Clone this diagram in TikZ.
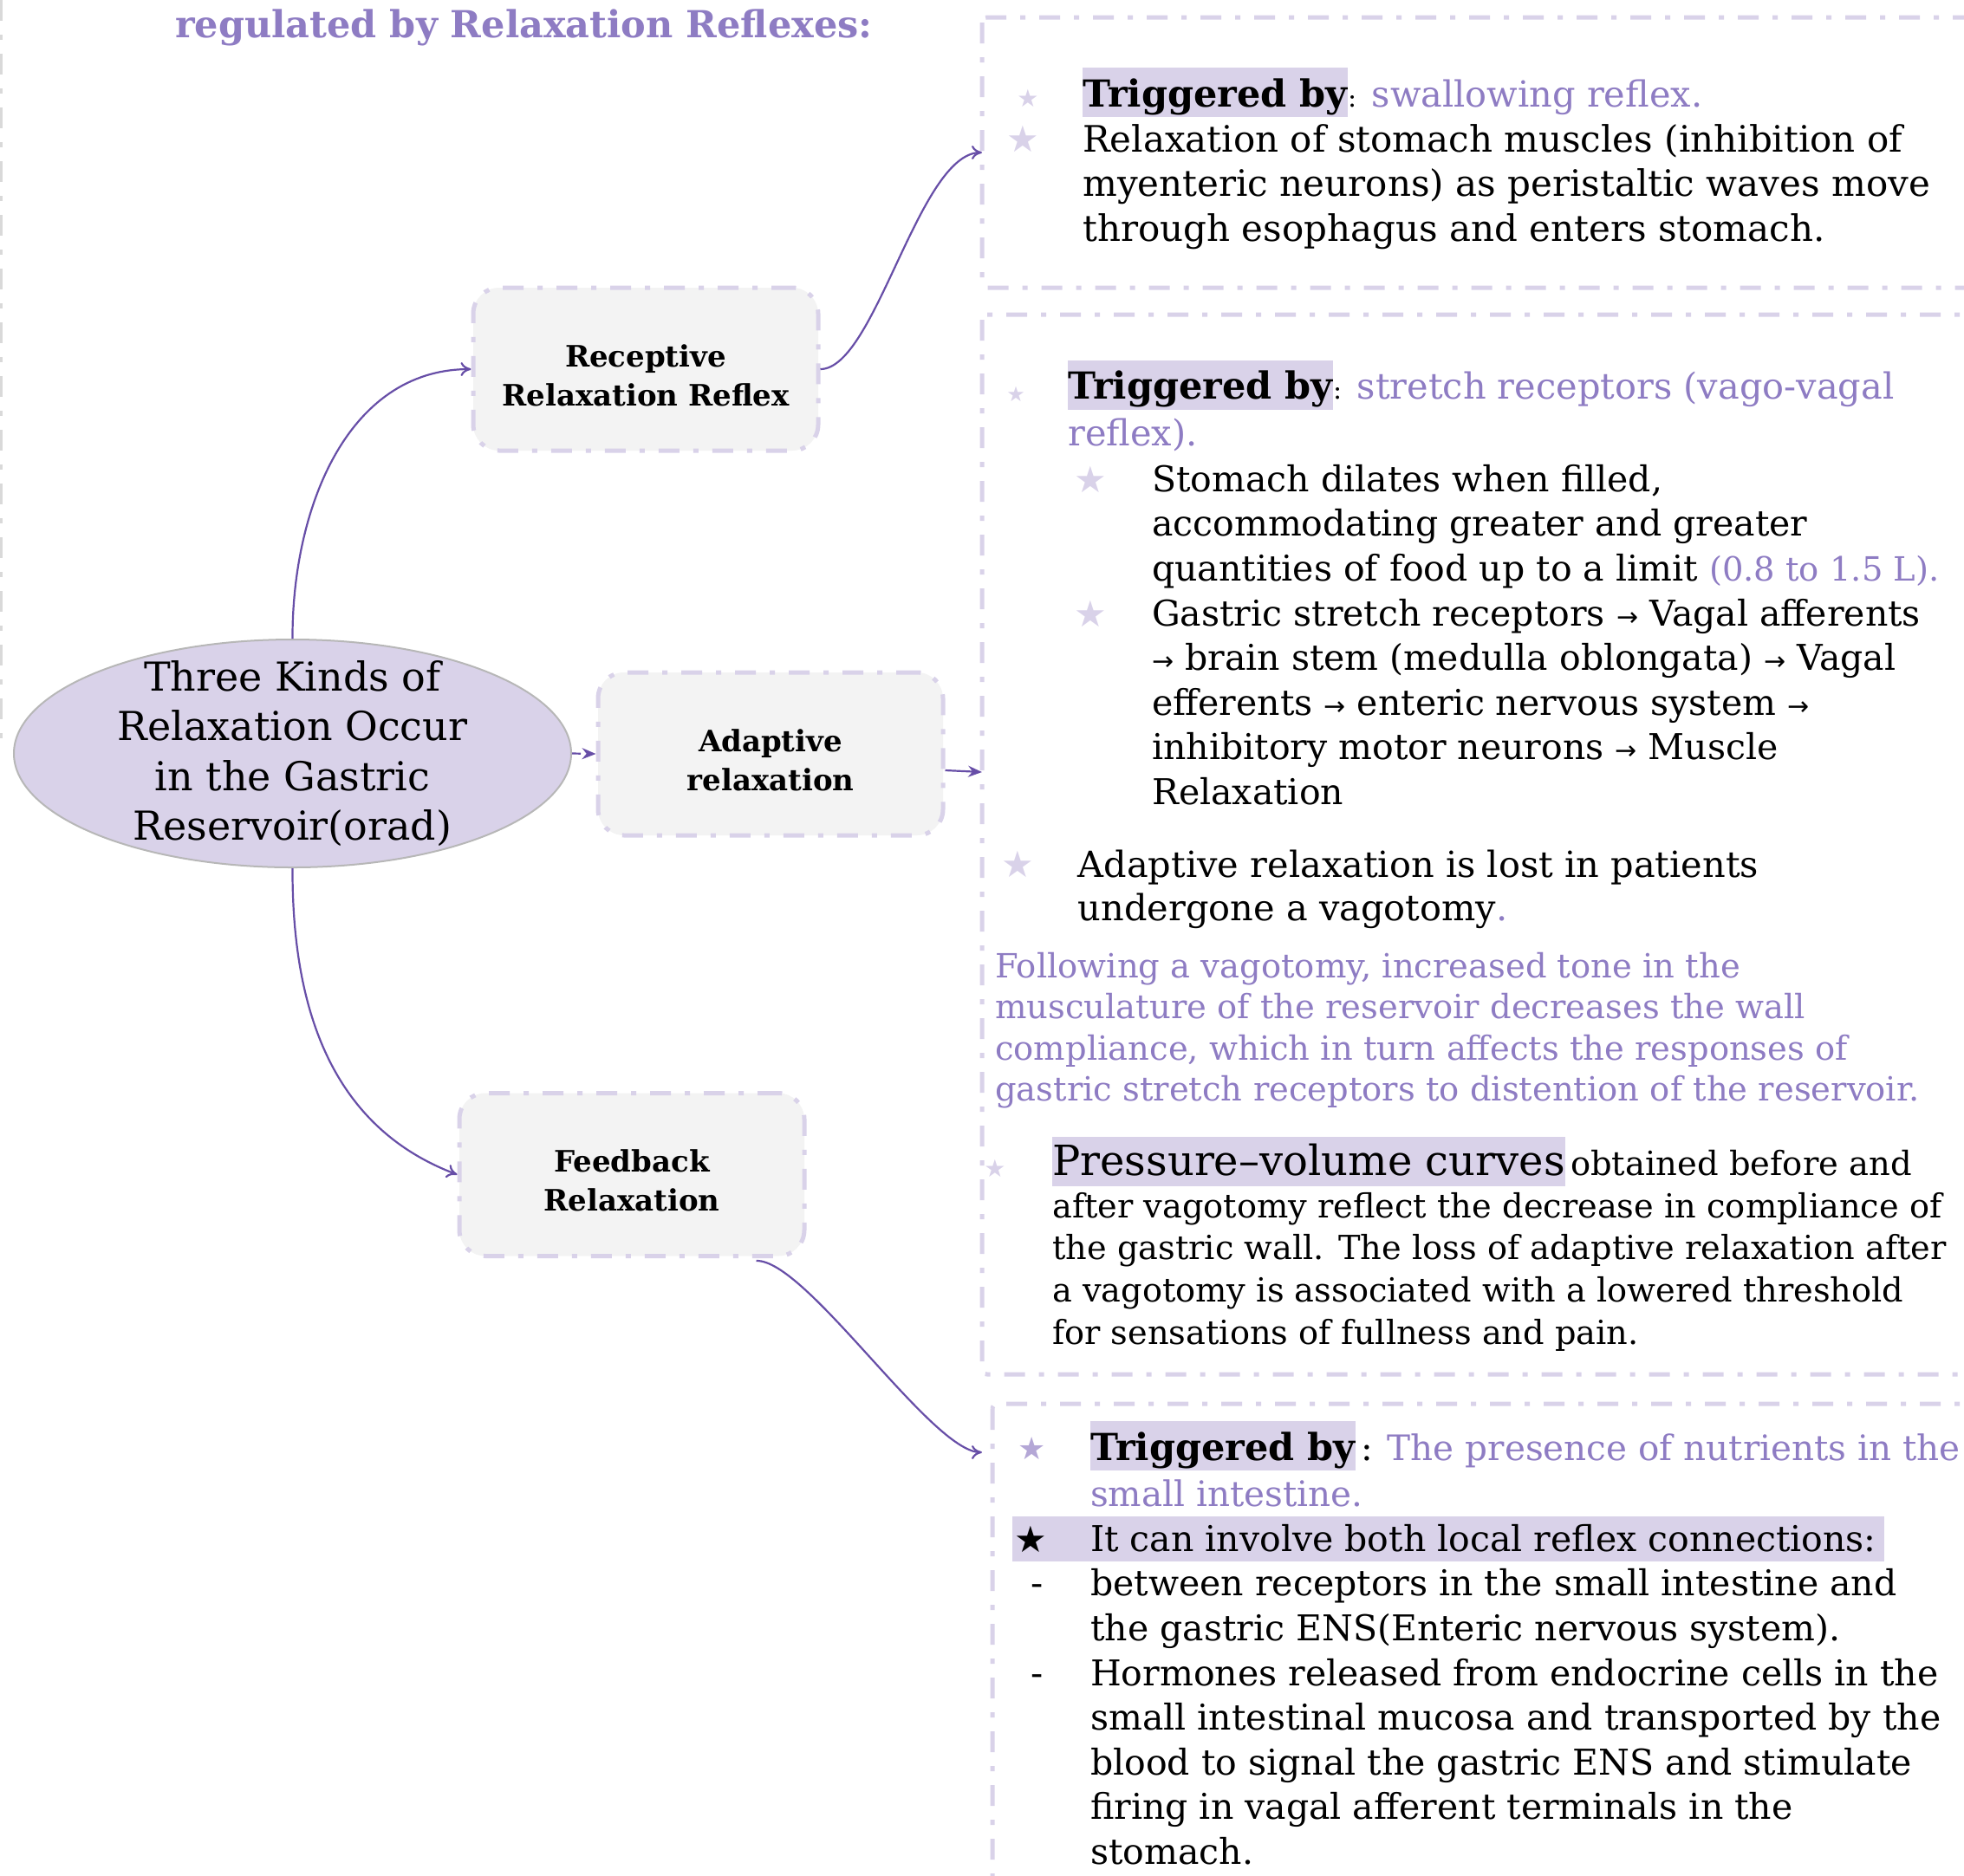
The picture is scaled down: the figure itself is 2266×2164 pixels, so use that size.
\documentclass[tikz,border=0pt]{standalone}
\usepackage{fontspec}
\setmainfont{DejaVu Serif}
\newfontfamily\symf{DejaVu Sans}
\usetikzlibrary{arrows.meta,shapes.geometric}
\definecolor{lav}{HTML}{D9D2E9}
\definecolor{lavmid}{HTML}{B4A7D6}
\definecolor{purp}{HTML}{8E7CC3}
\definecolor{arrc}{HTML}{674EA7}
\definecolor{boxf}{HTML}{F3F3F3}
\definecolor{ellb}{HTML}{B7B7B7}
\definecolor{lgray}{HTML}{D9D9D9}
\newcommand\fsz[2]{\fontsize{#1}{#2}\selectfont}
\newcommand\rarr{{\symf\fontsize{30}{30}\selectfont\char"2192}}
\newcommand\firstln{\rule{0pt}{40pt}}
\begin{document}
\begin{tikzpicture}[x=1pt,y=-1pt,
  dashdot/.style={dash pattern=on 24pt off 16pt on 6pt off 16pt},
  panel/.style={draw=lav, line width=5pt, dashdot, rounded corners=6pt},
  topic/.style={draw=lav, fill=boxf, line width=5pt, dashdot, rounded corners=30pt,
    minimum width=398pt, minimum height=188pt, align=center,
    font=\bfseries\fsz{34}{45}, inner sep=0pt},
  link/.style={draw=arrc, line width=2.2pt, -{To[length=12pt,width=16pt]}},
  slink/.style={draw=arrc, line width=2.2pt, -{Stealth[length=16pt,width=13pt]}},
  starmark/.style={inner sep=0pt, font=\symf\fsz{#1}{#1}},
  bodypara/.style={anchor=north west, inner sep=0pt, align=left, font=\fsz{42}{51.6}},
  smallpara/.style={anchor=north west, inner sep=0pt, align=left, font=\fsz{38.5}{48}},
  hl/.style={fill=lav, inner xsep=0pt, inner ysep=0pt, anchor=base west},
  trig/.style={hl, font=\bfseries\fsz{43}{52}, text height=45pt, text depth=12pt},
  after/.style={anchor=base west, inner sep=0pt, font=\fsz{42}{52}},
]
\useasboundingbox (0,0) rectangle (2266,2164);
\clip (0,0) rectangle (2266,2164);

% left border fragment
\draw[lgray, line width=3pt, dashdot] (1.5,0) -- (1.5,862);

% title
\node[anchor=base west, inner sep=0pt, font=\bfseries\fsz{43}{52}, text=purp] (title) at (202,43) {regulated by Relaxation Reflexes:};

% panels
\draw[panel] (1133,20) rectangle (2330,332);
\draw[panel] (1133,363) rectangle (2330,1586);
\draw[panel] (1145,1620) rectangle (2330,2260);
\coordinate (p1in) at (1133,176);
\coordinate (p2in) at (1133,891);
\coordinate (p3in) at (1133,1676);

% central ellipse
\node[ellipse, draw=ellb, line width=2pt, fill=lav, minimum width=643pt, minimum height=263pt,
  inner xsep=0pt, inner ysep=-40pt, align=center, font=\fsz{46}{57.5}] (core) at (337.5,869.5)
  {Three Kinds of\\Relaxation Occur\\in the Gastric\\Reservoir(orad)};

% topic boxes
\node[topic] (rr) at (745,426) {\firstln Receptive\\Relaxation Reflex};
\node[topic] (ra) at (889,870) {\firstln Adaptive\\relaxation};
\node[topic] (rf) at (729,1355.5) {\firstln Feedback\\Relaxation};

% connectors
\draw[link] (core.north) .. controls (337,590) and (399,426) .. (rr.west);
\draw[link] (rr.east) .. controls (1010,426) and (1060,176) .. (p1in);
\draw[slink, dash pattern=on 10pt off 8pt] (core.east) -- (ra.west);
\draw[slink] ([yshift=-19pt]ra.east) -- (p2in);
\draw[link] (core.south) .. controls (337,1160) and (380,1300) .. (rf.west);
\draw[link] ([xshift=-58pt,yshift=-3pt]rf.south east) .. controls (930,1453) and (1075,1676) .. (p3in);

% ---- panel 1
\node[starmark=28, text=lav] (s11) at (1186,113) {★};
\node[trig] (tb1) at (1249,123) {Triggered by};
\node[after, font=\fsz{41.5}{52}] (tr1) at (tb1.base east) {{\fsz{30}{30}:} \textcolor{purp}{swallowing reflex.}};
\node[starmark=42, text=lav] (s12) at (1180,160) {★};
\node[bodypara] (p1t) at (1249,135) {\firstln Relaxation of stomach muscles (inhibition of\\myenteric neurons) as peristaltic waves move\\through esophagus and enters stomach.};

% ---- panel 2
\node[starmark=24, text=lav] (s21) at (1172,455) {★};
\node[trig] (tb2) at (1232,460.6) {Triggered by};
\node[after, font=\fsz{41.5}{52}] (tr2) at (tb2.base east) {{\fsz{30}{30}:} \textcolor{purp}{stretch receptors (vago-vagal}};
\node[after, font=\fsz{41.5}{52}, text=purp] (tr2b) at (1232,514) {reflex).};
\node[starmark=42, text=lav] (s22) at (1258,553) {★};
\node[starmark=42, text=lav] (s23) at (1258,708) {★};
\node[bodypara, font=\fsz{41}{51.6}] (p2a) at (1329,527) {\firstln Stomach dilates when filled,\\accommodating greater and greater\\quantities of food up to a limit \textcolor{purp}{\fsz{38.5}{51.6}(0.8 to 1.5 L).}\\Gastric stretch receptors \rarr{} Vagal afferents\\\rarr{} brain stem (medulla oblongata) \rarr{} Vagal\\efferents \rarr{} enteric nervous system \rarr\\inhibitory motor neurons \rarr{} Muscle\\Relaxation};
\node[starmark=42, text=lav] (s24) at (1174,997) {★};
\node[bodypara, font=\fsz{41.5}{50}] (p2b) at (1243.5,972) {\firstln Adaptive relaxation is lost in patients\\undergone a vagotomy\textcolor{purp}{.}};
\node[smallpara, font=\fsz{38.5}{47.4}, text=purp] (p2c) at (1148,1088) {\firstln Following a vagotomy, increased tone in the\\musculature of the reservoir decreases the wall\\compliance, which in turn affects the responses of\\gastric stretch receptors to distention of the reservoir.};
\node[starmark=28, text=lav] (s25) at (1148,1348) {★};
\node[hl, font=\fsz{48}{52}, text height=44pt, text depth=13pt] (tbp) at (1214,1356) {Pressure–volume curves};
\node[after, font=\fsz{38.5}{48}] (trp) at (tbp.base east) {\hspace{6pt}obtained before and};
\node[smallpara, font=\fsz{38.3}{48.7}] (p2d) at (1214,1365) {\firstln after vagotomy reflect the decrease in compliance of\\the gastric wall. The loss of adaptive relaxation after\\a vagotomy is associated with a lowered threshold\\for sensations of fullness and pain.};

% ---- panel 3
\node[starmark=36, text=lavmid] (s31) at (1191,1672) {★};
\node[trig] (tb3) at (1258,1685) {Triggered by};
\node[after, font=\fsz{40.5}{52}] (tr3) at (tb3.base east) {\hspace{6pt}: \textcolor{purp}{The presence of nutrients in the}};
\node[after, font=\fsz{40.5}{52}, text=purp] (tr3b) at (1258,1738) {small intestine.};
\node[fill=lav, anchor=north west, minimum width=1006pt, minimum height=51.5pt, inner sep=0pt] (band) at (1168,1750) {};
\node[starmark=42] (s32) at (1189,1776) {★};
\node[bodypara, font=\fsz{41}{51.6}] (p3) at (1258,1750) {\firstln It can involve both local reflex connections:\\between receptors in the small intestine and\\the gastric ENS(Enteric nervous system).\\Hormones released from endocrine cells in the\\small intestinal mucosa and transported by the\\blood to signal the gastric ENS and stimulate\\firing in vagal afferent terminals in the\\stomach.};
\node[anchor=base, inner sep=0pt, font=\fsz{42}{52}] (d1) at (1197,1841) {-};
\node[anchor=base, inner sep=0pt, font=\fsz{42}{52}] (d2) at (1197,1945) {-};
\end{tikzpicture}
\end{document}
